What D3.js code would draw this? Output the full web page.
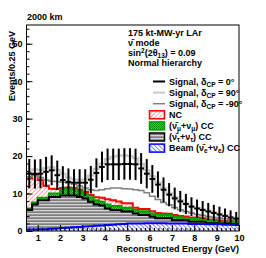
<!DOCTYPE html>
<html lang="en">
<head>
<meta charset="UTF-8">
<title>2000 km antineutrino mode spectrum</title>
<script src="https://d3js.org/d3.v7.min.js"></script>
<style>
  body { margin: 0; background: #fff; }
  svg text { font-family: "Liberation Sans", Arial, sans-serif; font-weight: bold; }
</style>
</head>
<body>
<svg width="266" height="258"></svg>
<script>
// bins of 0.25 GeV from 0.5 to 10 GeV
const binLo = d3.range(0.5, 10, 0.25);
const binWidth = 0.25;

// backgrounds, events per bin (stacked bottom -> top)
const beamCC = [0.4,0.4,0.5,0.5,0.6,0.7,0.8,0.9,1.0,1.1, 1.2,1.3,1.4,1.5,1.6,1.7,1.8,1.9,2.0,2.0,
                2.0,2.1,2.1,2.1,2.1,2.0,2.0,2.0,2.0,1.9, 1.9,1.9,1.8,1.8,1.8,1.7,1.7,1.6];
const tauCC  = [5.2,6.7,7.7,7.7,8.5,8.4,8.7,8.6,8.5,8.0, 7.5,6.5,5.7,5.3,4.4,3.9,3.8,3.3,3.2,2.7,
                2.3,2.2,1.7,1.3,1.3,1.4,0.9,0.9,0.9,0.6, 0.6,0.6,0.3,0.3,0.2,0.3,0.2,0.2];
const numuCC = [0.4,0.5,0.7,0.7,0.9,0.9,1.6,1.7,1.6,1.5, 1.2,1.2,1.1,1.0,1.1,1.1,1.1,1.0,1.0,0.9,
                1.0,1.0,0.9,1.1,0.9,0.9,0.9,0.8,0.6,0.8, 0.8,0.5,0.7,0.7,0.5,0.5,0.6,0.6];
const ncBg   = [8.0,7.5,4.7,3.2,1.3,1.2,0.4,0.4,0.4,0.4, 0.5,0.6,0.8,1.1,1.4,1.5,1.2,1.2,1.2,0.6,
                0.6,0.6,0.6,0.3,0.4,0.3,0.5,0.3,0.4,0.3, 0.3,0.4,0.3,0.3,0.3,0.2,0.2,0.2];

// signal + background totals
const sig0    = [15.3,15.2,15.3,15.8,16.2,14.9,13.6,13.1,12.9,12.9, 12.9,13.7,15.5,17.1,17.8,17.8,17.8,17.9,17.9,17.8,
                 16.7,15.3,13.9,12.4,11.0,9.7,8.7,7.9,7.2,6.5, 6.0,5.6,5.2,4.8,4.4,4.0,3.6,3.3];
const sig0Err = [3.9,3.9,3.9,4.0,4.0,3.9,3.7,3.6,3.6,3.6, 3.6,3.7,3.9,4.1,4.2,4.2,4.2,4.2,4.2,4.2,
                 4.1,3.9,3.7,3.5,3.3,3.1,2.9,2.8,2.7,2.5, 2.4,2.4,2.3,2.2,2.1,2.0,1.9,1.8];
const sig90   = [15.8,16.5,16.3,16.8,17.0,16.3,15.3,14.3,13.8,13.6, 13.8,14.8,16.6,18.0,19.2,19.8,20.1,20.2,20.0,19.4,
                 17.9,16.2,14.6,13.0,11.5,10.1,9.1,8.2,7.4,6.7, 6.2,5.8,5.4,5.0,4.6,4.2,3.8,3.5];
const sigM90  = [14.5,15.4,14.3,13.6,13.3,13.2,13.0,12.8,12.5,12.0, 11.5,11.0,10.8,11.0,11.3,11.5,11.5,11.3,11.2,11.0,
                 10.8,10.2,9.3,8.4,7.6,7.0,6.3,5.7,5.2,4.8, 4.4,4.2,3.9,3.7,3.5,3.3,3.0,2.9];

const xTicks = [1,2,3,4,5,6,7,8,9,10];
const yTicks = [0,10,20,30,40,50];

const svg = d3.select('svg');
const x = d3.scaleLinear().domain([0.5, 10]).range([26.5, 239]);
const y = d3.scaleLinear().domain([0, 55]).range([231, 25]);

// fill patterns
const defs = svg.append('defs');
function hatch(id, color, angle, bg, w) {
  const p = defs.append('pattern').attr('id', id).attr('patternUnits', 'userSpaceOnUse')
    .attr('width', 3).attr('height', 3).attr('patternTransform', `rotate(${angle})`);
  p.append('rect').attr('width', 3).attr('height', 3).attr('fill', bg);
  p.append('line').attr('x1', 0).attr('y1', 0).attr('x2', 0).attr('y2', 3)
    .attr('stroke', color).attr('stroke-width', w);
}
hatch('ncFill', '#ff3030', 45, '#fff', 0.9);
hatch('beamFill', '#2020ff', -45, '#fff', 1.1);
const pg = defs.append('pattern').attr('id', 'numuFill').attr('patternUnits', 'userSpaceOnUse')
  .attr('width', 2).attr('height', 2);
pg.append('rect').attr('width', 2).attr('height', 2).attr('fill', '#3ccf3c');
pg.append('rect').attr('width', 1).attr('height', 1).attr('fill', '#0b8a0b');
pg.append('rect').attr('x', 1).attr('y', 1).attr('width', 1).attr('height', 1).attr('fill', '#0b8a0b');
const pt = defs.append('pattern').attr('id', 'tauFill').attr('patternUnits', 'userSpaceOnUse')
  .attr('width', 3).attr('height', 3);
pt.append('rect').attr('width', 3).attr('height', 3).attr('fill', '#d4d4d4');
pt.append('rect').attr('y', 1.5).attr('width', 3).attr('height', 1.2).attr('fill', '#5a5a5a');

svg.append('rect').attr('width', 266).attr('height', 258).attr('fill', '#fff');

// stacked backgrounds
const rows = binLo.map((lo, i) => ({ lo, beam: beamCC[i], tau: tauCC[i], numu: numuCC[i], nc: ncBg[i] }));
const layers = d3.stack().keys(['beam', 'tau', 'numu', 'nc'])(rows);
const style = {
  beam: { fill: 'url(#beamFill)', stroke: '#0000ff' },
  tau:  { fill: 'url(#tauFill)',  stroke: '#000' },
  numu: { fill: 'url(#numuFill)', stroke: '#00a000' },
  nc:   { fill: 'url(#ncFill)',   stroke: '#ff0000' }
};
function steps(layer) {
  return layer.flatMap((d, i) => [
    { e: rows[i].lo, y0: d[0], y1: d[1] },
    { e: rows[i].lo + binWidth, y0: d[0], y1: d[1] }
  ]);
}
const area = d3.area().x(p => x(p.e)).y0(p => y(p.y0)).y1(p => y(p.y1));
const topLine = d3.line().x(p => x(p.e)).y(p => y(p.y1));

layers.forEach(l => {
  svg.append('path').attr('d', area(steps(l))).attr('fill', style[l.key].fill);
});
layers.slice().reverse().forEach(l => {
  svg.append('path').attr('d', topLine(steps(l))).attr('fill', 'none')
    .attr('stroke', style[l.key].stroke).attr('stroke-width', 2);
});

// signal curves
function stepLine(vals) {
  return topLine(vals.flatMap((v, i) => [{ e: binLo[i], y1: v }, { e: binLo[i] + binWidth, y1: v }]));
}
svg.append('path').attr('d', stepLine(sigM90)).attr('fill', 'none').attr('stroke', '#808080').attr('stroke-width', 1.5);
svg.append('path').attr('d', stepLine(sig90)).attr('fill', 'none').attr('stroke', '#c8c8c8').attr('stroke-width', 2);

const pts = svg.append('g').attr('stroke', '#000').attr('stroke-width', 2);
sig0.forEach((v, i) => {
  const c = binLo[i] + binWidth / 2;
  pts.append('line').attr('x1', x(c)).attr('x2', x(c)).attr('y1', y(v - sig0Err[i])).attr('y2', y(v + sig0Err[i]));
  pts.append('line').attr('x1', x(binLo[i])).attr('x2', x(binLo[i] + binWidth)).attr('y1', y(v)).attr('y2', y(v));
});

// frame and axes
svg.append('rect').attr('x', 26.5).attr('y', 25).attr('width', 212.5).attr('height', 206)
  .attr('fill', 'none').attr('stroke', '#000').attr('stroke-width', 1);

const ax = svg.append('g').attr('transform', 'translate(0,231)');
ax.call(d3.axisBottom(x).tickValues(d3.range(0.6, 10, 0.2)).tickSize(-3).tickFormat(''));
ax.call(g => g.append('g').call(d3.axisBottom(x).tickValues(xTicks).tickSize(-6).tickPadding(4).tickFormat(d3.format('d'))));
const ay = svg.append('g').attr('transform', 'translate(26.5,0)');
ay.call(d3.axisLeft(y).tickValues(d3.range(2, 55, 2)).tickSize(-3).tickFormat(''));
ay.call(g => g.append('g').call(d3.axisLeft(y).tickValues(yTicks).tickSize(-6).tickPadding(4)));
svg.selectAll('.domain').remove();
svg.selectAll('.tick line').attr('stroke', '#000');
svg.selectAll('.tick text').attr('font-size', 9).attr('fill', '#000')
  .style('font-family', '"Liberation Sans", Arial, sans-serif').style('font-weight', 'bold');

svg.append('text').attr('x', 239).attr('y', 252).attr('text-anchor', 'end').attr('font-size', 9)
  .text('Reconstructed Energy (GeV)');
svg.append('text').attr('transform', 'translate(15,31) rotate(-90)').attr('text-anchor', 'end')
  .attr('font-size', 9).text('Events/0.25 GeV');
svg.append('text').attr('x', 27).attr('y', 20).attr('font-size', 9).text('2000 km');

// info block
function rich(t, parts) {
  parts.forEach(p => {
    const s = t.append('tspan').text(p[0]);
    if (p[1] === 'sub') s.attr('font-size', 6.5).attr('dy', 2);
    if (p[1] === 'sup') s.attr('font-size', 6.5).attr('dy', -3.5);
    if (p[2]) s.attr('dy', p[2]);
  });
}
const info = svg.append('g').attr('font-size', 9);
info.append('text').attr('x', 128).attr('y', 36).text('175 kt-MW-yr LAr');
info.append('text').attr('x', 128).attr('y', 46).text('\u03BD\u0304 mode');
rich(info.append('text').attr('x', 128).attr('y', 56),
  [['sin'], ['2', 'sup'], ['(2\u03B8', null, 3.5], ['13', 'sub'], [') = 0.09', null, -2]]);
info.append('text').attr('x', 128).attr('y', 66).text('Normal hierarchy');

// legend
const entries = [
  { kind: 'line', color: '#000', w: 2, parts: [['Signal, \u03B4'], ['CP', 'sub'], [' = 0\u00B0', null, -2]] },
  { kind: 'line', color: '#c8c8c8', w: 2, parts: [['Signal, \u03B4'], ['CP', 'sub'], [' = 90\u00B0', null, -2]] },
  { kind: 'line', color: '#808080', w: 1.5, parts: [['Signal, \u03B4'], ['CP', 'sub'], [' = -90\u00B0', null, -2]] },
  { kind: 'box', key: 'nc', parts: [['NC']] },
  { kind: 'box', key: 'numu', parts: [['(\u03BD\u0304'], ['\u03BC', 'sub'], ['+\u03BD', null, -2], ['\u03BC', 'sub'], [') CC', null, -2]] },
  { kind: 'box', key: 'tau', parts: [['(\u03BD\u0304'], ['\u03C4', 'sub'], ['+\u03BD', null, -2], ['\u03C4', 'sub'], [') CC', null, -2]] },
  { kind: 'box', key: 'beam', parts: [['Beam (\u03BD\u0304'], ['e', 'sub'], ['+\u03BD', null, -2], ['e', 'sub'], [') CC', null, -2]] }
];
const leg = svg.append('g').attr('font-size', 9);
entries.forEach((en, i) => {
  const yc = 81.5 + 11.1 * i;
  if (en.kind === 'line') {
    leg.append('line').attr('x1', 153).attr('x2', 165).attr('y1', yc).attr('y2', yc)
      .attr('stroke', en.color).attr('stroke-width', en.w);
  } else {
    leg.append('rect').attr('x', 149.5).attr('y', yc - 4).attr('width', 15).attr('height', 8)
      .attr('fill', style[en.key].fill).attr('stroke', style[en.key].stroke).attr('stroke-width', 1.5);
  }
  rich(leg.append('text').attr('x', 169).attr('y', yc + 3.2), en.parts);
});
</script>
</body>
</html>
